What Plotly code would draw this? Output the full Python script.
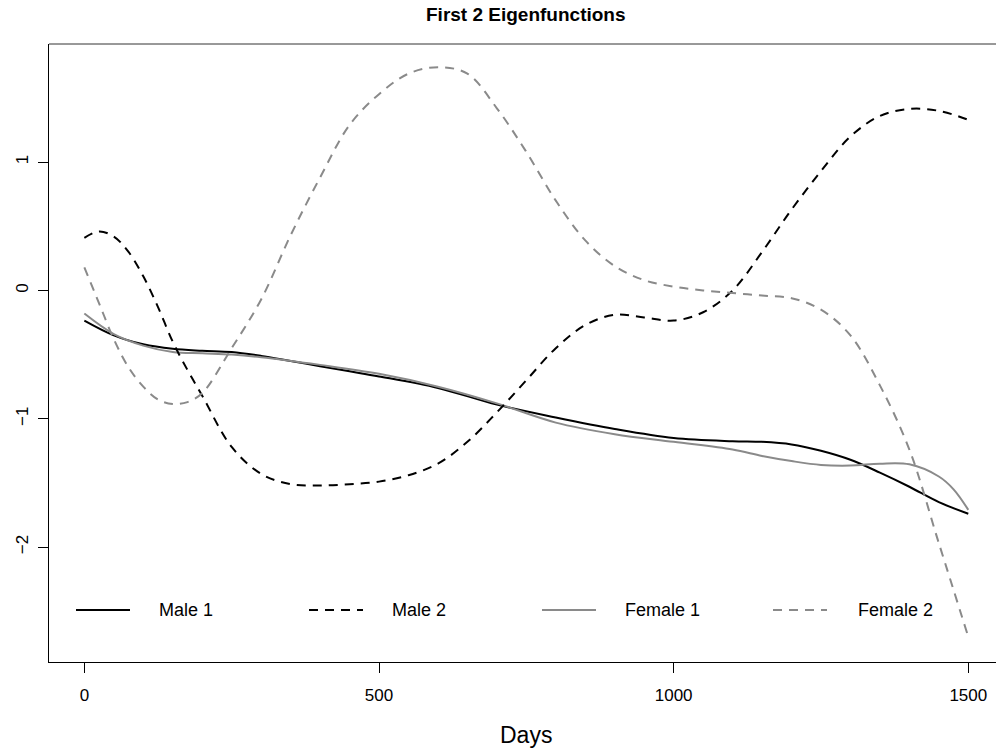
import plotly.graph_objects as go

# Day grids and eigenfunction values for each series
male1_days = [0, 50, 100, 150, 200, 250, 300, 350, 400, 450, 500, 600, 700, 800, 900,
              1000, 1100, 1150, 1200, 1250, 1300, 1350, 1400, 1450, 1500]
male1_vals = [-0.235, -0.35, -0.42, -0.455, -0.47, -0.48, -0.51, -0.55, -0.59, -0.63, -0.67,
              -0.76, -0.89, -0.99, -1.08, -1.15, -1.175, -1.18, -1.20, -1.25, -1.32, -1.42,
              -1.53, -1.65, -1.74]

female1_days = [0, 50, 100, 150, 200, 250, 300, 400, 500, 600, 700, 800, 900, 1000, 1100,
                1150, 1200, 1250, 1300, 1350, 1400, 1450, 1475, 1500]
female1_vals = [-0.18, -0.34, -0.43, -0.48, -0.49, -0.50, -0.52, -0.58, -0.65, -0.75, -0.88,
                -1.03, -1.12, -1.18, -1.24, -1.29, -1.33, -1.36, -1.365, -1.35, -1.355,
                -1.45, -1.55, -1.71]

male2_days = [0, 25, 50, 75, 100, 125, 150, 175, 200, 250, 300, 350, 400, 450, 500, 550,
              600, 650, 700, 750, 800, 850, 900, 950, 1000, 1050, 1100, 1150, 1200, 1250,
              1300, 1350, 1400, 1450, 1500]
male2_vals = [0.41, 0.46, 0.42, 0.30, 0.11, -0.13, -0.40, -0.62, -0.82, -1.22, -1.43, -1.51,
              -1.52, -1.51, -1.49, -1.44, -1.35, -1.18, -0.95, -0.70, -0.45, -0.27, -0.19,
              -0.21, -0.235, -0.17, 0.0, 0.30, 0.63, 0.93, 1.20, 1.36, 1.415, 1.40, 1.33]

female2_days = [0, 25, 50, 75, 100, 125, 150, 175, 200, 250, 300, 350, 400, 450, 500, 550,
                600, 650, 700, 750, 800, 850, 900, 950, 1000, 1050, 1100, 1150, 1200, 1250,
                1300, 1350, 1400, 1450, 1500]
female2_vals = [0.18, -0.10, -0.38, -0.60, -0.75, -0.85, -0.885, -0.87, -0.80, -0.45, -0.07,
                0.43, 0.88, 1.29, 1.53, 1.69, 1.74, 1.69, 1.42, 1.08, 0.70, 0.39, 0.19, 0.08,
                0.03, 0.0, -0.02, -0.04, -0.06, -0.15, -0.35, -0.74, -1.24, -1.97, -2.70]

series_names = ["Male 1", "Male 2", "Female 1", "Female 2"]
x_ticks = [0, 500, 1000, 1500]
y_ticks = [-2, -1, 0, 1]

BLACK = "#000000"
GRAY = "#8a8a8a"
DASH = "9px,7px"
FONT = "Liberation Sans, Arial, Helvetica, sans-serif"

styles = {
    "Male 1": dict(color=BLACK, dash="solid"),
    "Male 2": dict(color=BLACK, dash=DASH),
    "Female 1": dict(color=GRAY, dash="solid"),
    "Female 2": dict(color=GRAY, dash=DASH),
}
data = {
    "Male 1": (male1_days, male1_vals),
    "Male 2": (male2_days, male2_vals),
    "Female 1": (female1_days, female1_vals),
    "Female 2": (female2_days, female2_vals),
}

fig = go.Figure()
for name in ["Male 1", "Female 1", "Male 2", "Female 2"]:
    xs, ys = data[name]
    st = styles[name]
    fig.add_trace(go.Scatter(
        x=xs, y=ys, mode="lines", name=name, showlegend=False,
        line=dict(color=st["color"], dash=st["dash"], width=2,
                  shape="spline", smoothing=1.0),
    ))

W, H = 996, 751
L, R, T, B = 49, 0, 44, 89

fig.update_layout(
    width=W, height=H,
    margin=dict(l=L, r=R, t=T, b=B),
    paper_bgcolor="white", plot_bgcolor="white",
    font=dict(family=FONT, size=18, color="black"),
    xaxis=dict(
        range=[-60, 1547], tickvals=x_ticks, ticktext=[str(v) for v in x_ticks],
        showgrid=False, zeroline=False, showline=True, linecolor=BLACK, linewidth=1,
        ticks="outside", ticklen=10, tickcolor=BLACK, tickwidth=1,
        tickfont=dict(size=17), ticklabelstandoff=8,
    ),
    yaxis=dict(
        range=[-2.896, 1.921], tickvals=y_ticks,
        showgrid=False, zeroline=False, showline=True, linecolor=BLACK, linewidth=1,
        ticks="outside", ticklen=10, tickcolor=BLACK, tickwidth=1,
        tickfont=dict(size=17), tickangle=-90, ticklabelstandoff=3,
    ),
)

# top border of the plot box
fig.add_shape(type="line", xref="paper", yref="paper", x0=0, x1=1, y0=1, y1=1,
              line=dict(color="#333333", width=1))

# title and x-axis label
fig.add_annotation(text="<b>First 2 Eigenfunctions</b>", xref="paper", yref="paper",
                   x=(526 - L) / (W - L - R), y=1 + (T - 15) / (H - T - B),
                   xanchor="center", yanchor="middle", showarrow=False,
                   font=dict(size=19, family=FONT))
fig.add_annotation(text="Days", xref="paper", yref="paper",
                   x=(526 - L) / (W - L - R), y=-(735 - (H - B)) / (H - T - B),
                   xanchor="center", yanchor="middle", showarrow=False,
                   font=dict(size=23, family=FONT))

# horizontal key along the bottom of the plot
plot_w = W - L - R
plot_h = H - T - B
key_y = (H - B - 610) / plot_h
key_line_x = [76, 309, 542, 773]
key_text_x = [157, 390, 623, 856]
for name, lx, tx in zip(series_names, key_line_x, key_text_x):
    st = styles[name]
    fig.add_shape(type="line", xref="paper", yref="paper",
                  x0=(lx - L) / plot_w, x1=(lx + 54 - L) / plot_w, y0=key_y, y1=key_y,
                  line=dict(color=st["color"], width=2,
                            dash=st["dash"]))
    fig.add_annotation(text=name, xref="paper", yref="paper",
                       x=(tx - L) / plot_w, y=key_y, xanchor="left", yanchor="middle",
                       showarrow=False, font=dict(size=18, family=FONT))

fig.write_html("out.html")
